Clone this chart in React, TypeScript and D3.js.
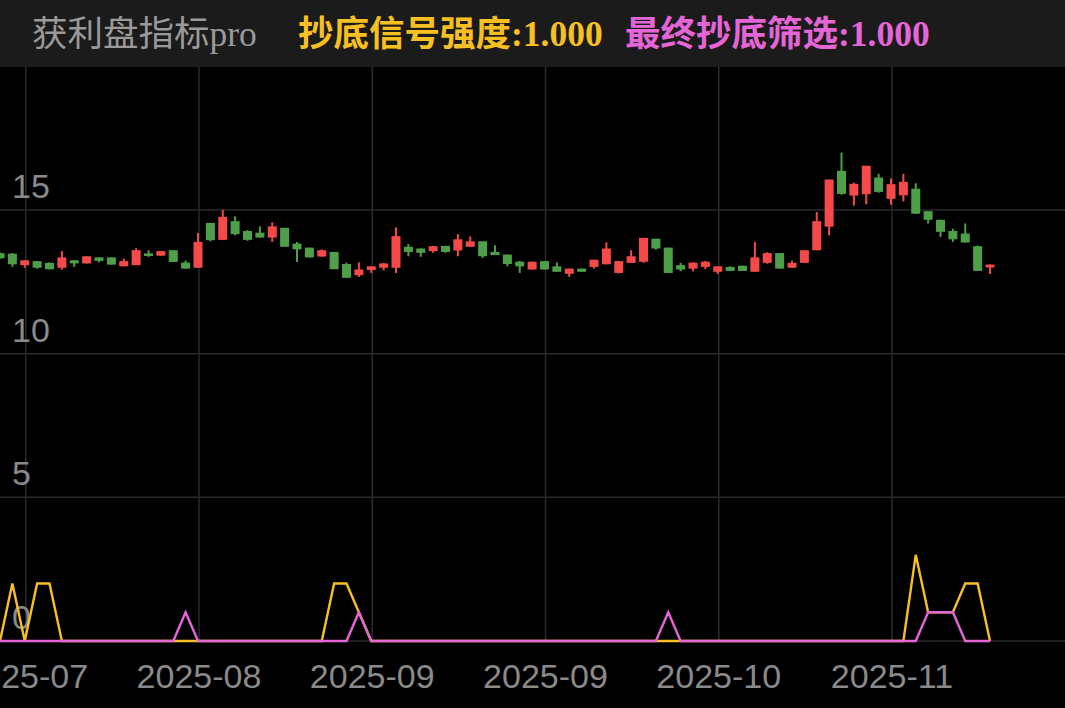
import React, { useEffect } from "react";
import * as d3 from "d3";

const W = 1065;
const H = 708;

const openVals = [13.50, 13.48, 13.08, 13.22, 13.16, 12.99, 13.25, 13.14, 13.35, 13.35, 13.04, 13.08, 13.49, 13.41, 13.60, 13.17, 12.99, 14.55, 13.96, 14.61, 14.27, 14.21, 14.04, 14.38, 13.83, 13.69, 13.38, 13.54, 13.12, 12.73, 12.91, 12.99, 12.99, 13.72, 13.66, 13.57, 13.75, 13.59, 13.72, 13.91, 13.54, 13.45, 13.20, 12.93, 13.22, 13.04, 12.78, 12.96, 13.02, 13.11, 12.81, 13.16, 13.20, 14.00, 13.69, 13.08, 12.96, 13.02, 12.85, 13.02, 13.06, 12.85, 13.16, 13.50, 12.99, 13.16, 13.60, 14.42, 16.36, 15.50, 15.55, 16.13, 15.39, 15.51, 15.74, 14.96, 14.66, 14.27, 14.18, 13.74, 13.00];
const highVals = [13.52, 13.50, 13.25, 13.23, 13.18, 13.57, 13.25, 13.39, 13.35, 13.35, 13.31, 13.67, 13.60, 13.57, 13.60, 13.24, 14.20, 14.55, 15.00, 14.78, 14.30, 14.43, 14.57, 14.38, 13.89, 13.69, 13.63, 13.54, 13.17, 13.18, 13.04, 13.16, 14.39, 13.81, 13.66, 13.74, 13.75, 14.16, 14.08, 13.91, 13.77, 13.45, 13.23, 13.20, 13.22, 13.18, 12.96, 12.96, 13.27, 13.87, 13.22, 13.60, 14.03, 14.00, 13.69, 13.16, 13.17, 13.23, 13.04, 13.04, 13.06, 13.89, 13.53, 13.50, 13.23, 13.60, 14.93, 16.06, 17.00, 15.95, 16.54, 16.26, 16.10, 16.26, 15.93, 14.96, 14.66, 14.35, 14.53, 13.76, 13.10];
const lowVals = [13.30, 13.02, 12.99, 12.96, 12.93, 12.92, 13.02, 13.14, 13.18, 13.10, 13.04, 13.08, 13.37, 13.41, 13.19, 12.96, 12.99, 13.91, 13.96, 14.12, 13.93, 14.04, 13.89, 13.72, 13.19, 13.35, 13.38, 12.94, 12.64, 12.67, 12.81, 12.90, 12.81, 13.39, 13.37, 13.51, 13.51, 13.39, 13.72, 13.33, 13.43, 13.04, 12.81, 12.93, 12.93, 12.85, 12.67, 12.85, 12.96, 13.11, 12.79, 13.16, 13.16, 13.62, 12.81, 12.87, 12.87, 12.94, 12.77, 12.88, 12.88, 12.85, 13.13, 12.96, 12.99, 13.16, 13.60, 14.12, 15.53, 15.15, 15.20, 15.60, 15.18, 15.30, 14.87, 14.53, 14.06, 13.89, 13.87, 12.88, 12.77];
const closeVals = [13.32, 13.11, 13.25, 12.99, 12.94, 13.35, 13.14, 13.39, 13.23, 13.10, 13.22, 13.60, 13.40, 13.57, 13.19, 12.96, 13.89, 13.95, 14.76, 14.16, 13.96, 14.04, 14.43, 13.72, 13.63, 13.35, 13.60, 12.94, 12.64, 12.93, 13.04, 13.14, 14.09, 13.54, 13.51, 13.74, 13.54, 13.98, 13.91, 13.39, 13.43, 13.12, 13.04, 13.20, 12.93, 12.85, 12.96, 12.85, 13.27, 13.66, 13.22, 13.39, 14.03, 13.66, 12.81, 12.93, 13.17, 13.20, 13.04, 12.88, 12.88, 13.35, 13.50, 12.96, 13.16, 13.60, 14.61, 16.06, 15.56, 15.91, 16.54, 15.63, 15.90, 15.98, 14.87, 14.66, 14.24, 13.98, 13.87, 12.88, 13.10];

// 抄底信号强度
const signalVals = [0, 2, 0, 2, 2, 0, 0, 0, 0, 0, 0, 0, 0, 0, 0, 0, 0, 0, 0, 0, 0, 0, 0, 0, 0, 0, 0, 2, 2, 1, 0, 0, 0, 0, 0, 0, 0, 0, 0, 0, 0, 0, 0, 0, 0, 0, 0, 0, 0, 0, 0, 0, 0, 0, 0, 0, 0, 0, 0, 0, 0, 0, 0, 0, 0, 0, 0, 0, 0, 0, 0, 0, 0, 0, 3, 1, 1, 1, 2, 2, 0];
// 最终抄底筛选
const filterVals = [0, 0, 0, 0, 0, 0, 0, 0, 0, 0, 0, 0, 0, 0, 0, 1, 0, 0, 0, 0, 0, 0, 0, 0, 0, 0, 0, 0, 0, 1, 0, 0, 0, 0, 0, 0, 0, 0, 0, 0, 0, 0, 0, 0, 0, 0, 0, 0, 0, 0, 0, 0, 0, 0, 1, 0, 0, 0, 0, 0, 0, 0, 0, 0, 0, 0, 0, 0, 0, 0, 0, 0, 0, 0, 0, 1, 1, 1, 0, 0, 0];

const yTicks = [0, 5, 10, 15];
const xTickIndex = [2, 16, 30, 44, 58, 72];
const xTickLabels = ["2025-07", "2025-08", "2025-09", "2025-09", "2025-10", "2025-11"];

const titleText = "获利盘指标pro";
const signalLabel = "抄底信号强度:1.000";
const filterLabel = "最终抄底筛选:1.000";

const RED = "#f44a4a";
const GREEN = "#4f9f4a";
const YELLOW = "#f7c022";
const PINK = "#e466d6";
const GRID = "#2a2a2f";
const AXIS_TEXT = "#8a8a8a";

export default function App() {
  useEffect(() => {
    document.body.style.margin = "0";
    document.body.style.background = "#000";
  }, []);

  const n = openVals.length;
  const x = d3.scaleLinear().domain([0, n - 1]).range([0, 990]);
  const y = d3.scaleLinear().domain([0, 15]).range([641, 210]);
  const bodyW = 9;

  const line = d3
    .line<number>()
    .x((_, i) => x(i))
    .y((d) => y(d));

  const top = 67;

  return (
    <svg
      width={W}
      height={H}
      style={{ position: "absolute", left: 0, top: 0, display: "block" }}
    >
      <rect x={0} y={0} width={W} height={H} fill="#000" />
      {/* grid */}
      {yTicks.map((t) => (
        <line key={"gy" + t} x1={0} x2={W} y1={y(t)} y2={y(t)} stroke={GRID} strokeWidth={1.5} />
      ))}
      {xTickIndex.map((t, k) => (
        <line key={"gx" + k} x1={x(t) + 1} x2={x(t) + 1} y1={top} y2={641} stroke={GRID} strokeWidth={1.5} />
      ))}
      {/* y labels */}
      {yTicks.map((t) => (
        <text
          key={"yl" + t}
          x={12}
          y={y(t) - 12}
          fill={AXIS_TEXT}
          fontSize={34}
          fontFamily="'Liberation Sans', Arial, sans-serif"
        >
          {t}
        </text>
      ))}
      {/* candles */}
      {openVals.map((o, i) => {
        const c = closeVals[i];
        const up = c >= o;
        const col = up ? RED : GREEN;
        const cx = x(i);
        const yTop = y(Math.max(o, c));
        const yBot = y(Math.min(o, c));
        return (
          <g key={"c" + i}>
            <line x1={cx} x2={cx} y1={y(highVals[i])} y2={y(lowVals[i])} stroke={col} strokeWidth={2} />
            <rect x={cx - bodyW / 2} y={yTop} width={bodyW} height={Math.max(2, yBot - yTop)} fill={col} />
          </g>
        );
      })}
      {/* signal lines */}
      <path d={line(signalVals) || ""} fill="none" stroke={YELLOW} strokeWidth={2.4} strokeLinejoin="miter" />
      <path d={line(filterVals) || ""} fill="none" stroke={PINK} strokeWidth={2.4} strokeLinejoin="miter" />
      {/* x labels */}
      {xTickIndex.map((t, k) => (
        <text
          key={"xl" + k}
          x={x(t) + 1}
          y={688}
          fill={AXIS_TEXT}
          fontSize={34}
          textAnchor="middle"
          fontFamily="'Liberation Sans', Arial, sans-serif"
        >
          {xTickLabels[k]}
        </text>
      ))}
      {/* header */}
      <rect x={0} y={0} width={W} height={top} fill="#1b1b1b" />
      <text x={32} y={46} fill="#9a9a9a" fontSize={35.5} fontFamily="'Liberation Serif', 'Noto Sans CJK SC', serif">
        {titleText}
      </text>
      <text x={298} y={46} fill={YELLOW} fontSize={35.5} fontWeight="bold" fontFamily="'Liberation Serif', 'Noto Sans CJK SC', serif">
        {signalLabel}
      </text>
      <text x={625} y={46} fill={PINK} fontSize={35.5} fontWeight="bold" fontFamily="'Liberation Serif', 'Noto Sans CJK SC', serif">
        {filterLabel}
      </text>
    </svg>
  );
}
